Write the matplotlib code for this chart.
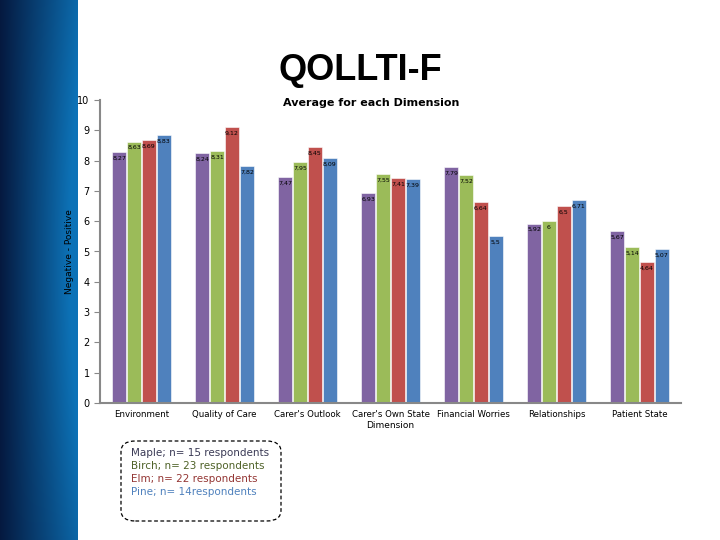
import numpy as np
import matplotlib
matplotlib.use("Agg")
import matplotlib.pyplot as plt
from matplotlib.patches import FancyBboxPatch

categories = ["Environment", "Quality of Care", "Carer's Outlook", "Carer's Own State",
              "Financial Worries", "Relationships", "Patient State"]
maple = [8.27, 8.24, 7.47, 6.93, 7.79, 5.92, 5.67]
birch = [8.63, 8.31, 7.95, 7.55, 7.52, 6.00, 5.14]
elm = [8.69, 9.12, 8.45, 7.41, 6.64, 6.50, 4.64]
pine = [8.83, 7.82, 8.09, 7.39, 5.50, 6.71, 5.07]
series_names = ["Maple; n= 15 respondents", "Birch; n= 23 respondents",
                "Elm; n= 22 respondents", "Pine; n= 14respondents"]
colors = ["#8064A2", "#9BBB59", "#C0504D", "#4F81BD"]
legend_colors = ["#3A3A55", "#4F6228", "#943634", "#4F81BD"]

W, H = 720, 540
fig = plt.figure(figsize=(7.2, 5.4), dpi=100)

# blue gradient side panel
side = fig.add_axes([0, 0, 78 / W, 1])
gx = np.linspace(0, 1, 80)
gy = np.linspace(0, 1, 540)
X, Y = np.meshgrid(gx, gy)
t = np.clip(X * 0.85 + 0.25 * np.sin(Y * 3.0) * X, 0, 1)
c0 = np.array([0.02, 0.10, 0.25])
c1 = np.array([0.05, 0.45, 0.72])
img = c0 + (c1 - c0) * t[..., None]
side.imshow(img, aspect="auto", extent=[0, 1, 0, 1], origin="lower")
side.axis("off")

# main axes: x 100..681 px, y 100..403 px
ax = fig.add_axes([100 / W, (H - 403) / H, 581 / W, 303 / H])
x = np.arange(len(categories))
bw = 0.18
for i, (vals, col) in enumerate(zip([maple, birch, elm, pine], colors)):
    xs = x + (i - 1.5) * bw
    ax.bar(xs, vals, width=bw * 0.95, color=col, edgecolor="white", linewidth=0.4)
    for xi, v in zip(xs, vals):
        lab = f"{v:g}".replace(".", ",")
        ax.text(xi, v - 0.12, lab, ha="center", va="top", fontsize=4.5,
                color="black")

ax.set_xlim(-0.5, len(categories) - 0.5)
ax.set_ylim(0, 10)
ax.set_yticks(range(11))
ax.set_xticks(x)
ax.set_xticklabels(categories, fontsize=6.2)
ax.tick_params(axis="x", length=0, pad=5)
ax.tick_params(axis="y", labelsize=7, color="#888888", length=4, direction="out")
for s in ["top", "right"]:
    ax.spines[s].set_visible(False)
for s in ["left", "bottom"]:
    ax.spines[s].set_color("#888888")
    ax.spines[s].set_linewidth(1.5)
ax.set_ylabel("Negative - Positive", fontsize=6.5, labelpad=2)
ax.yaxis.set_label_coords(-0.045, 0.5)

fig.text(360 / W, 1 - 70 / H, "QOLLTI-F", ha="center", va="center",
         fontsize=26, fontweight="bold", family="Liberation Sans")
fig.text(371 / W, 1 - 103 / H, "Average for each Dimension", ha="center",
         va="center", fontsize=8, fontweight="bold")
fig.text(390 / W, 1 - 426 / H, "Dimension", ha="center", va="center",
         fontsize=6.5)

# dashed legend box
box = FancyBboxPatch((121 / W, 1 - 521 / H), 160 / W, 80 / H,
                     boxstyle="round,pad=0,rounding_size=0.02",
                     transform=fig.transFigure, fill=False,
                     linestyle=(0, (3, 2)), linewidth=0.9, edgecolor="black")
fig.patches.append(box)
for k, (name, col) in enumerate(zip(series_names, legend_colors)):
    fig.text(131 / W, 1 - (453 + k * 13) / H, name, ha="left", va="center",
             fontsize=7.5, color=col)

fig.savefig("out.png", dpi=100)
